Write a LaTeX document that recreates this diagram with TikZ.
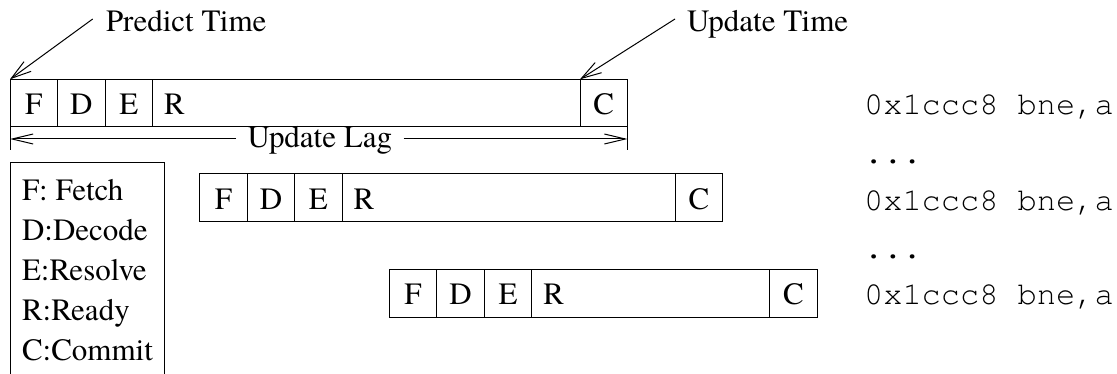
\documentclass[tikz,border=0pt]{standalone}
\usepackage{fontspec}
\setmainfont{TeX Gyre Termes}
\setmonofont{TeX Gyre Cursor}
\usetikzlibrary{arrows.meta}
\newcommand\pipeline[6]{%
  % #1 prefix, #2 x, #3 y, #4 R width, #5 R text width, #6 code baseline
  \node[cell] (#1F) at (#2,#3) {F};
  \node[cell] (#1D) at (#1F.north east) {D};
  \node[cell] (#1E) at (#1D.north east) {E};
  \node[rcell, minimum width=#4pt, text width=#5pt] (#1R) at (#1E.north east) {R};
  \node[cell] (#1C) at (#1R.north east) {C};
  \node[code] (#1code) at (863.6,#6) {0x1ccc8 bne,a};
}
\begin{document}
\begin{tikzpicture}[x=1pt,y=-1pt,
  every node/.style={font=\fontsize{31}{40}\selectfont},
  cell/.style={draw, line width=1pt, anchor=north west, minimum width=47.5pt,
    minimum height=47.7pt, inner sep=0pt, outer sep=0pt, text height=23pt, text depth=0pt},
  rcell/.style={cell, align=left, inner xsep=11.5pt},
  code/.style={anchor=base west, inner sep=0pt, font=\ttfamily\fontsize{32}{40}\selectfont},
  pointer/.style={line width=1pt, -{Straight Barb[length=20pt, width=12pt, line width=1pt]}},
  lag/.style={line width=1pt, -{Straight Barb[length=21pt, width=10pt, line width=1pt]}},
  line width=1pt]
\clip (0,0) rectangle (1117,374);

\pipeline{a}{10}{79.3}{427.5}{404.5}{115}
\pipeline{b}{199.7}{174}{333}{310}{210.5}
\pipeline{c}{389.3}{269.3}{238}{215}{305}

\node[code] (dots1) at (863.6,164) {...};
\node[code] (dots2) at (863.6,259) {...};

% labels with pointers
\node[anchor=base west, inner sep=0pt] (predict) at (105.5,31.7) {Predict Time};
\node[anchor=base west, inner sep=0pt] (update) at (686.5,31.7) {Update Time};
\coordinate (pstart) at (92.7,19);
\coordinate (ustart) at (675,19);
\draw[pointer] (pstart) -- (aF.north west);
\draw[pointer] (ustart) -- (aC.north west);

% update lag
\coordinate (tickL) at (10,150);
\coordinate (tickR) at (aC.south east |- tickL);
\coordinate (lagy) at (10,139);
\draw (aF.south west) -- (tickL);
\draw (aC.south east) -- (tickR);
\node[anchor=base, inner xsep=11pt, inner ysep=0pt] (lagtext) at (319.8,147.5) {Update Lag};
\draw[lag] (lagtext.west |- lagy) -- (lagy);
\draw[lag] (lagtext.east |- lagy) -- (tickR |- lagy);

% legend
\node[draw, anchor=north west, minimum width=154pt, minimum height=240pt, inner sep=0pt, outer sep=0pt] (legendbox) at (10,163) {};
\node[anchor=north west, align=left, inner sep=0pt] (legend) at (21.5,179)
  {F: Fetch\\D:Decode\\E:Resolve\\R:Ready\\C:Commit};
\end{tikzpicture}
\end{document}
